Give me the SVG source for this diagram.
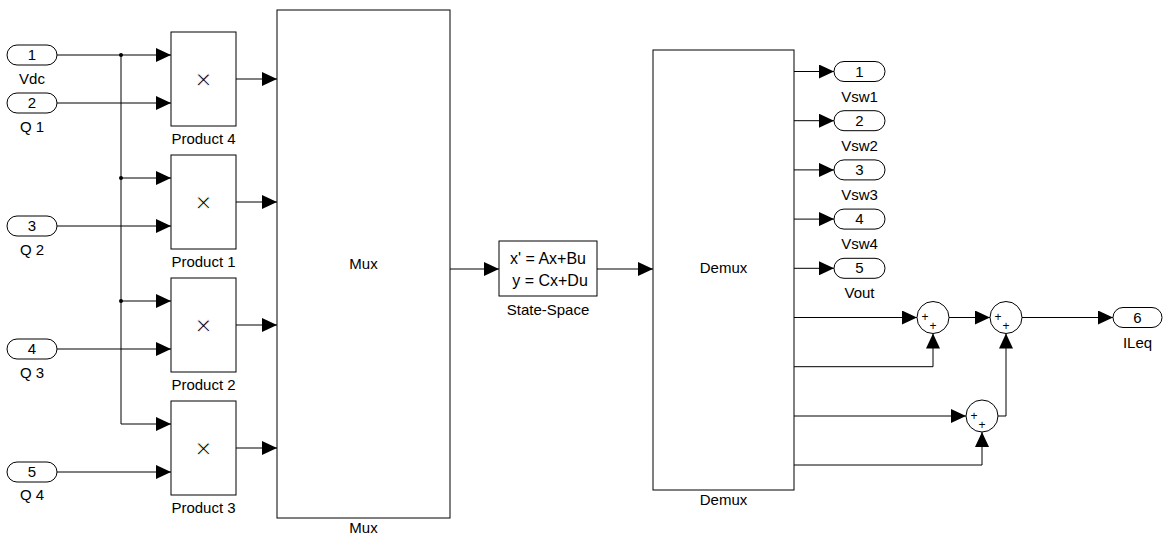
<svg xmlns="http://www.w3.org/2000/svg" width="1164" height="535" viewBox="0 0 1164 535">
<style>
text{font-family:"Liberation Sans",Arial,Helvetica,sans-serif;font-size:15px;fill:#000;text-anchor:middle}
.blk{fill:#fff;stroke:#000;stroke-width:1}
.port{fill:#fff;stroke:#000;stroke-width:1}
.sig{fill:none;stroke:#000;stroke-width:1}
.x{font-size:28px;stroke:#fff;stroke-width:0.8}
.sgn{font-size:12px}
.ss{font-size:16px}
</style>
<defs>
<marker id="arr" markerUnits="userSpaceOnUse" markerWidth="15" markerHeight="14" refX="15" refY="7" orient="auto">
<path d="M0,0 L15,7 L0,14 Z" fill="#000"/>
</marker>
</defs>
<rect width="1164" height="535" fill="#fff"/>

<g id="connectors">
<path class="sig" d="M57,55 H171" marker-end="url(#arr)"/>
<path class="sig" d="M57,103 H171" marker-end="url(#arr)"/>
<path class="sig" d="M121,55 V178 H171" marker-end="url(#arr)"/>
<path class="sig" d="M57,226 H171" marker-end="url(#arr)"/>
<path class="sig" d="M121,178 V301 H171" marker-end="url(#arr)"/>
<path class="sig" d="M57,349 H171" marker-end="url(#arr)"/>
<path class="sig" d="M121,301 V424 H171" marker-end="url(#arr)"/>
<path class="sig" d="M57,472 H171" marker-end="url(#arr)"/>
<circle cx="121" cy="55" r="2" fill="#000"/>
<circle cx="121" cy="178" r="2" fill="#000"/>
<circle cx="121" cy="301" r="2" fill="#000"/>
<path class="sig" d="M236,79 H277" marker-end="url(#arr)"/>
<path class="sig" d="M236,202 H277" marker-end="url(#arr)"/>
<path class="sig" d="M236,325 H277" marker-end="url(#arr)"/>
<path class="sig" d="M236,448 H277" marker-end="url(#arr)"/>
<path class="sig" d="M450,269 H499" marker-end="url(#arr)"/>
<path class="sig" d="M597,269 H653" marker-end="url(#arr)"/>
<path class="sig" d="M794,71.5 H834" marker-end="url(#arr)"/>
<path class="sig" d="M794,120.7 H834" marker-end="url(#arr)"/>
<path class="sig" d="M794,169.9 H834" marker-end="url(#arr)"/>
<path class="sig" d="M794,219.1 H834" marker-end="url(#arr)"/>
<path class="sig" d="M794,268.3 H834" marker-end="url(#arr)"/>
<path class="sig" d="M794,317.5 H917" marker-end="url(#arr)"/>
<path class="sig" d="M794,366.7 H933 V333.5" marker-end="url(#arr)"/>
<path class="sig" d="M949,317.5 H990" marker-end="url(#arr)"/>
<path class="sig" d="M1022,317.5 H1113" marker-end="url(#arr)"/>
<path class="sig" d="M794,416 H966" marker-end="url(#arr)"/>
<path class="sig" d="M794,465 H982 V432" marker-end="url(#arr)"/>
<path class="sig" d="M998,416 H1006 V333.5" marker-end="url(#arr)"/>
</g>

<g id="in1"><rect class="port" x="7" y="45" width="50" height="20" rx="10"/><text x="32" y="60">1</text><text x="32" y="84">Vdc</text></g>
<g id="in2"><rect class="port" x="7" y="93" width="50" height="20" rx="10"/><text x="32" y="108">2</text><text x="32" y="132">Q 1</text></g>
<g id="in3"><rect class="port" x="7" y="216" width="50" height="20" rx="10"/><text x="32" y="231">3</text><text x="32" y="255">Q 2</text></g>
<g id="in4"><rect class="port" x="7" y="339" width="50" height="20" rx="10"/><text x="32" y="354">4</text><text x="32" y="378">Q 3</text></g>
<g id="in5"><rect class="port" x="7" y="462" width="50" height="20" rx="10"/><text x="32" y="477">5</text><text x="32" y="500">Q 4</text></g>

<g id="product4"><rect class="blk" x="171" y="32" width="65" height="94"/><text class="x" x="203.5" y="89">×</text><text x="203.5" y="144">Product 4</text></g>
<g id="product1"><rect class="blk" x="171" y="155" width="65" height="94"/><text class="x" x="203.5" y="212">×</text><text x="203.5" y="267">Product 1</text></g>
<g id="product2"><rect class="blk" x="171" y="278" width="65" height="94"/><text class="x" x="203.5" y="335">×</text><text x="203.5" y="390">Product 2</text></g>
<g id="product3"><rect class="blk" x="171" y="401" width="65" height="94"/><text class="x" x="203.5" y="458">×</text><text x="203.5" y="513">Product 3</text></g>

<g id="mux"><rect class="blk" x="277" y="10" width="173" height="508"/><text x="363.5" y="269">Mux</text><text x="363.5" y="533">Mux</text></g>

<g id="statespace"><rect class="blk" x="499" y="241" width="98" height="55"/><text class="ss" x="548" y="264">x' = Ax+Bu</text><text class="ss" x="550" y="286">y = Cx+Du</text><text x="548" y="315">State-Space</text></g>

<g id="demux"><rect class="blk" x="653" y="50" width="141" height="440"/><text x="723.5" y="273">Demux</text><text x="723.5" y="505">Demux</text></g>

<g id="out1"><rect class="port" x="834" y="61.5" width="51" height="20" rx="10"/><text x="859.5" y="76.5">1</text><text x="859.5" y="101.5">Vsw1</text></g>
<g id="out2"><rect class="port" x="834" y="110.7" width="51" height="20" rx="10"/><text x="859.5" y="125.7">2</text><text x="859.5" y="150.7">Vsw2</text></g>
<g id="out3"><rect class="port" x="834" y="159.9" width="51" height="20" rx="10"/><text x="859.5" y="174.9">3</text><text x="859.5" y="199.9">Vsw3</text></g>
<g id="out4"><rect class="port" x="834" y="209.1" width="51" height="20" rx="10"/><text x="859.5" y="224.1">4</text><text x="859.5" y="249.1">Vsw4</text></g>
<g id="out5"><rect class="port" x="834" y="258.3" width="51" height="20" rx="10"/><text x="859.5" y="273.3">5</text><text x="859.5" y="298.3">Vout</text></g>
<g id="out6"><rect class="port" x="1113" y="307.5" width="49" height="20" rx="10"/><text x="1137.5" y="322.5">6</text><text x="1137.5" y="347.5">ILeq</text></g>

<g id="sum1"><circle class="blk" cx="933" cy="317.5" r="16"/><text class="sgn" x="925" y="321">+</text><text class="sgn" x="933" y="330">+</text></g>
<g id="sum2"><circle class="blk" cx="1006" cy="317.5" r="16"/><text class="sgn" x="998" y="321">+</text><text class="sgn" x="1006" y="330">+</text></g>
<g id="sum3"><circle class="blk" cx="982" cy="416" r="16"/><text class="sgn" x="974" y="419.5">+</text><text class="sgn" x="982" y="428.5">+</text></g>
</svg>
